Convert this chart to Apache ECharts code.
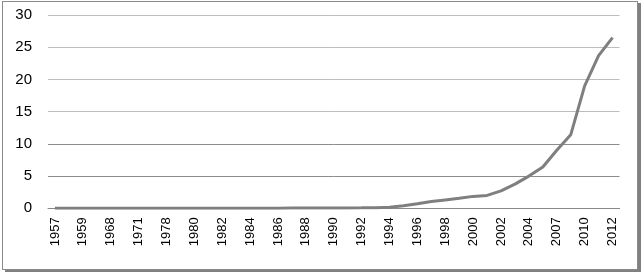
<!DOCTYPE html>
<html>
<head>
<meta charset="utf-8">
<script src="https://cdn.jsdelivr.net/npm/echarts@6/dist/echarts.min.js"></script>
<style>
  html, body { margin: 0; padding: 0; background: #fff; }
  #wrap { position: relative; width: 643px; height: 274px; overflow: hidden; }
  #frame { position: absolute; left: 2px; top: 1px; width: 634px; height: 267px;
           border: 1px solid #8a8a8a; box-shadow: 3px 2px 0 #808080; background: #fff; }
  #chart { position: absolute; left: 0; top: 0; width: 643px; height: 274px; }
  #src { position: absolute; left: 3px; top: 271px; font: 13px "Liberation Sans", Arial, sans-serif; color: #000; white-space: nowrap; }
</style>
</head>
<body>
<div id="wrap">
  <div id="frame"></div>
  <div id="src">Fonte: GSE, Elaborazione dati</div>
  <div id="chart"></div>
</div>
<script>
// Categories (years) as they appear in the source table
const years = [
  '1957','1958','1959','1965','1968','1970','1971','1975','1978','1979',
  '1980','1981','1982','1983','1984','1985','1986','1987','1988','1989',
  '1990','1991','1992','1993','1994','1995','1996','1997','1998','1999',
  '2000','2001','2002','2003','2004','2005','2007','2008','2010','2011','2012'
];
// Series values
const values = [
  0.01, 0.01, 0.01, 0.01, 0.01, 0.01, 0.01, 0.01, 0.01, 0.01,
  0.01, 0.01, 0.01, 0.01, 0.02, 0.02, 0.02, 0.03, 0.03, 0.04,
  0.05, 0.06, 0.07, 0.09, 0.15, 0.4, 0.7, 1.05, 1.3, 1.55,
  1.85, 2.0, 2.7, 3.75, 5.0, 6.4, 9.0, 11.4, 19.0, 23.7, 26.5
];
// Y axis ticks
const yMin = 0, yMax = 30, yStep = 5;

const chart = echarts.init(document.getElementById('chart'), null, { renderer: 'canvas' });
chart.setOption({
  animation: false,
  backgroundColor: 'transparent',
  grid: { left: 48, right: 23.5, top: 15, bottom: 65.7, containLabel: false },
  xAxis: {
    type: 'category',
    data: years,
    boundaryGap: true,
    axisLine: { show: true, lineStyle: { color: '#888888', width: 1 } },
    axisTick: { show: false },
    axisLabel: {
      interval: 1,
      rotate: 90,
      margin: 9,
      color: '#000',
      fontSize: 13,
      fontFamily: 'Liberation Sans, Arial, sans-serif'
    },
    splitLine: { show: false }
  },
  yAxis: {
    type: 'value',
    min: yMin, max: yMax, interval: yStep,
    axisLine: { show: false },
    axisTick: { show: false },
    axisLabel: {
      margin: 16,
      color: '#000',
      fontSize: 15,
      fontFamily: 'Liberation Sans, Arial, sans-serif'
    },
    splitLine: {
      show: true,
      lineStyle: { color: ['#888888', '#8c8c8c', '#8c8c8c', '#bdbdbd', '#bdbdbd', '#bdbdbd', '#bdbdbd'], width: 1 }
    }
  },
  series: [{
    type: 'line',
    data: values,
    showSymbol: false,
    symbol: 'none',
    smooth: false,
    lineStyle: { color: '#7f7f7f', width: 3 },
    z: 3
  }]
});
</script>
</body>
</html>
